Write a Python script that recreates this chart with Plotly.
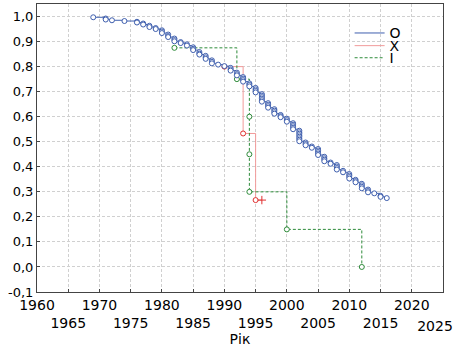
import plotly.graph_objects as go

# ---- axis ticks ----
x_tick_vals = [1960, 1965, 1970, 1975, 1980, 1985, 1990, 1995, 2000, 2005, 2010, 2015, 2020, 2025]
x_tick_text = ["1960", "<br>1965", "1970", "<br>1975", "1980", "<br>1985", "1990", "<br>1995",
               "2000", "<br>2005", "2010", "<br>2015", "2020", ""]
x_last_tick_val = [2025]
x_last_tick_text = ["<br>2025"]
y_tick_vals = [-0.1, 0.0, 0.1, 0.2, 0.3, 0.4, 0.5, 0.6, 0.7, 0.8, 0.9, 1.0]
y_tick_text = ["-0,1", "0,0", "0,1", "0,2", "0,3", "0,4", "0,5", "0,6", "0,7", "0,8", "0,9", "1,0"]

# ---- series O (blue) ----
o_years = [1969,
           1971, 1971,
           1972,
           1974,
           1976, 1976,
           1977, 1977,
           1978, 1978,
           1979, 1979,
           1980, 1980, 1980,
           1981, 1981, 1981,
           1982, 1982, 1982,
           1983, 1983,
           1984, 1984,
           1985, 1985, 1985,
           1986, 1986, 1986,
           1987, 1987, 1987,
           1988, 1988, 1988,
           1989,
           1990,
           1991, 1991, 1991,
           1992, 1992, 1992,
           1993, 1993, 1993, 1993,
           1994, 1994, 1994,
           1995, 1995, 1995, 1995,
           1996, 1996, 1996, 1996, 1996, 1996,
           1997, 1997, 1997, 1997,
           1998, 1998, 1998, 1998,
           1999, 1999, 1999,
           2000, 2000, 2000,
           2001, 2001, 2001, 2001, 2001,
           2002, 2002, 2002, 2002, 2002, 2002, 2002, 2002,
           2003, 2003, 2003,
           2004, 2004,
           2005, 2005, 2005, 2005, 2005,
           2006, 2006, 2006, 2006,
           2007, 2007,
           2008, 2008, 2008, 2008,
           2009, 2009,
           2010, 2010, 2010, 2010,
           2011, 2011, 2011,
           2012, 2012, 2012, 2012,
           2013, 2013, 2013,
           2014,
           2015, 2015,
           2016]
o_surv = [0.997,
          0.992, 0.988,
          0.985,
          0.982,
          0.979, 0.976,
          0.972, 0.968,
          0.963, 0.958,
          0.954, 0.950,
          0.945, 0.940, 0.934,
          0.928, 0.922, 0.918,
          0.912, 0.906, 0.901,
          0.898, 0.894,
          0.889, 0.884,
          0.877, 0.871, 0.866,
          0.858, 0.852, 0.848,
          0.843, 0.837, 0.831,
          0.825, 0.819, 0.813,
          0.808,
          0.802,
          0.795, 0.789, 0.784,
          0.776, 0.770, 0.765,
          0.758, 0.752, 0.746, 0.740,
          0.733, 0.727, 0.721,
          0.715, 0.709, 0.703, 0.697,
          0.690, 0.684, 0.678, 0.672, 0.666, 0.660,
          0.654, 0.648, 0.642, 0.636,
          0.630, 0.624, 0.618, 0.612,
          0.607, 0.602, 0.598,
          0.592, 0.586, 0.580,
          0.574, 0.568, 0.562, 0.556, 0.550,
          0.544, 0.538, 0.532, 0.526, 0.520, 0.514, 0.508, 0.502,
          0.497, 0.491, 0.486,
          0.481, 0.476,
          0.471, 0.465, 0.459, 0.453, 0.447,
          0.440, 0.434, 0.428, 0.422,
          0.417, 0.412,
          0.407, 0.401, 0.395, 0.389,
          0.384, 0.378,
          0.371, 0.365, 0.359, 0.353,
          0.348, 0.343, 0.338,
          0.332, 0.326, 0.320, 0.314,
          0.309, 0.303, 0.298,
          0.294,
          0.284, 0.280,
          0.275]

# ---- series X (red) ----
x_years = [1990, 1993, 1995]
x_surv = [0.800, 0.533, 0.267]
x_cens_years = [1996]
x_cens_surv = [0.267]

# ---- series I (green) ----
i_years = [1982, 1992, 1994, 1994, 1994, 2000, 2012]
i_surv = [0.875, 0.750, 0.600, 0.450, 0.300, 0.150, 0.000]

BLUE = "#3f5fae"
RED_LINE = "#f29a9a"
RED = "#e03030"
GREEN = "#2e8b3a"

fig = go.Figure()

# X (red): step line through events and censored point
fig.add_trace(go.Scatter(
    x=x_years + x_cens_years, y=x_surv + x_cens_surv,
    mode="lines", line=dict(color=RED_LINE, width=1, shape="hv"),
    showlegend=False, hoverinfo="skip"))
fig.add_trace(go.Scatter(
    x=x_years, y=x_surv, mode="markers",
    marker=dict(symbol="circle", size=5, color="white", line=dict(color=RED, width=1)),
    showlegend=False, hoverinfo="skip"))
fig.add_trace(go.Scatter(
    x=x_cens_years, y=x_cens_surv, mode="markers",
    marker=dict(symbol="cross-thin-open", size=6, color=RED, line=dict(color=RED, width=1)),
    showlegend=False, hoverinfo="skip"))

# I (green)
fig.add_trace(go.Scatter(
    x=i_years, y=i_surv, mode="lines+markers",
    line=dict(color=GREEN, width=1, dash="3px,2px", shape="hv"),
    marker=dict(symbol="circle", size=5, color="white", line=dict(color=GREEN, width=1)),
    showlegend=False, hoverinfo="skip"))

# O (blue)
fig.add_trace(go.Scatter(
    x=o_years, y=o_surv, mode="lines+markers",
    line=dict(color=BLUE, width=1, shape="hv"),
    marker=dict(symbol="circle", size=5, color="white", line=dict(color=BLUE, width=1)),
    showlegend=False, hoverinfo="skip"))

# empty trace anchoring the overlay axis that carries the last tick label
fig.add_trace(go.Scatter(x=[None], y=[None], xaxis="x2", showlegend=False, hoverinfo="skip"))

# legend entries (lines only)
fig.add_trace(go.Scatter(x=[None], y=[None], mode="lines", name="O",
                         line=dict(color=BLUE, width=1), legend="legend"))
fig.add_trace(go.Scatter(x=[None], y=[None], mode="lines", name="X",
                         line=dict(color=RED_LINE, width=1), legend="legend2"))
fig.add_trace(go.Scatter(x=[None], y=[None], mode="lines", name="I",
                         line=dict(color=GREEN, width=1, dash="3px,2px"), legend="legend3"))

FONT = "DejaVu Sans"
leg_common = dict(x=0.77, xanchor="left", yanchor="middle", bgcolor="rgba(0,0,0,0)",
                  borderwidth=0, font=dict(family=FONT, size=14, color="black"),
                  tracegroupgap=0)

fig.update_layout(
    width=459, height=347,
    margin=dict(l=37, r=16, t=4, b=55, autoexpand=False),
    paper_bgcolor="white", plot_bgcolor="white",
    font=dict(family=FONT, size=14, color="black"),
    legend=dict(y=0.898, **leg_common),
    legend2=dict(y=0.854, **leg_common),
    legend3=dict(y=0.812, **leg_common),
    xaxis=dict(range=[1960, 2025], tickvals=x_tick_vals, ticktext=x_tick_text, tickangle=0,
               automargin=False,
               showgrid=True, gridcolor="#d0d0d0", griddash="3px,2px", gridwidth=1,
               zeroline=False, showline=True, linecolor="#444", linewidth=1, mirror=True,
               ticks="inside", ticklen=3, tickcolor="#444",
               tickfont=dict(family=FONT, size=14, color="black"),
               title=dict(text="Рік", font=dict(family=FONT, size=14, color="black"), standoff=5)),
    xaxis2=dict(range=[1960, 2025], overlaying="x", side="bottom", anchor="y",
                tickvals=x_last_tick_val, ticktext=x_last_tick_text, tickangle=0,
                ticklabelshift=-8, ticklabelstandoff=3, ticklabeloverflow="allow", automargin=False,
                showgrid=False, zeroline=False,
                showline=True, linecolor="rgba(0,0,0,0)", linewidth=1,
                ticks="inside", ticklen=3, tickcolor="rgba(0,0,0,0)",
                tickfont=dict(family=FONT, size=14, color="black")),
    yaxis=dict(range=[-0.1, 1.05], tickvals=y_tick_vals, ticktext=y_tick_text,
               automargin=False,
               showgrid=True, gridcolor="#d0d0d0", griddash="3px,2px", gridwidth=1,
               zeroline=False, showline=True, linecolor="#444", linewidth=1, mirror=True,
               ticks="inside", ticklen=3, tickcolor="#444",
               tickfont=dict(family=FONT, size=13, color="black")),
)

fig.write_html("out.html")
